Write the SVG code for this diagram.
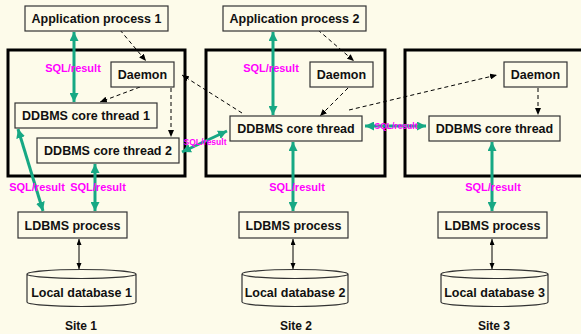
<svg xmlns="http://www.w3.org/2000/svg" width="581" height="334" viewBox="0 0 581 334">
<defs>
<style>
.bg{fill:#FDFBEA}
.site{fill:none;stroke:#000;stroke-width:3}
.box{fill:#FDFBEA;stroke:#333;stroke-width:1.2}
.t{font-family:"Liberation Sans",Arial,sans-serif;font-weight:bold;font-size:12.5px;fill:#111;text-anchor:middle}
.lbl{font-family:"Liberation Sans",Arial,sans-serif;font-weight:bold;font-size:11px;fill:#FF00FF;text-anchor:middle}
.slbl{font-family:"Liberation Sans",Arial,sans-serif;font-weight:bold;font-size:8.5px;fill:#FF00FF;text-anchor:middle}
.g{stroke:#17A884;stroke-width:3;fill:none;marker-start:url(#ga);marker-end:url(#ga)}
.d{stroke:#000;stroke-width:1;stroke-dasharray:4 3;fill:none;marker-end:url(#da)}
.k{stroke:#000;stroke-width:1;fill:none;marker-start:url(#ka);marker-end:url(#ka)}
</style>
<marker id="ga" markerUnits="userSpaceOnUse" markerWidth="10" markerHeight="9" refX="9" refY="4.5" orient="auto-start-reverse"><path d="M0,0 L9,4.5 L0,9 Z" fill="#17A884"/></marker>
<marker id="da" markerUnits="userSpaceOnUse" markerWidth="7" markerHeight="6" refX="7" refY="3" orient="auto"><path d="M0,0 L7,3 L0,6 Z" fill="#000"/></marker>
<marker id="ka" markerUnits="userSpaceOnUse" markerWidth="6" markerHeight="6" refX="6" refY="2.5" orient="auto-start-reverse"><path d="M0,0 L6,2.5 L0,5 Z" fill="#000"/></marker>
</defs>
<rect class="bg" x="0" y="0" width="581" height="334"/>
<g id="sites">
<rect class="site" x="8" y="50" width="177" height="126"/>
<rect class="site" x="206" y="50" width="179" height="126"/>
<rect class="site" x="405" y="50" width="190" height="126"/>
</g>
<g id="connectors">
<line class="g" x1="74" y1="32" x2="74" y2="102"/>
<line class="g" x1="273" y1="32" x2="273" y2="115"/>
<line class="g" x1="18" y1="129" x2="43" y2="211"/>
<line class="g" x1="95" y1="164" x2="95" y2="211"/>
<line class="g" x1="293" y1="142" x2="293" y2="211"/>
<line class="g" x1="492" y1="142" x2="492" y2="211"/>
<line class="g" x1="182" y1="152" x2="227" y2="131"/>
<line class="g" x1="365" y1="126" x2="426" y2="126"/>
<line class="k" x1="79" y1="239" x2="79" y2="269"/>
<line class="k" x1="293" y1="239" x2="293" y2="269"/>
<line class="k" x1="492" y1="239" x2="492" y2="269"/>
<line class="d" x1="120" y1="30" x2="146" y2="61"/>
<line class="d" x1="140" y1="87" x2="100" y2="102"/>
<line class="d" x1="171" y1="88" x2="171" y2="137"/>
<line class="d" x1="242" y1="113" x2="182" y2="75"/>
<line class="d" x1="318" y1="30" x2="354" y2="61"/>
<line class="d" x1="348" y1="88" x2="320" y2="116"/>
<line class="d" x1="349" y1="110" x2="497" y2="75"/>
<line class="d" x1="538" y1="88" x2="538" y2="115"/>
</g>
<g id="labels">
<text class="lbl" x="73" y="72">SQL/result</text>
<text class="lbl" x="271" y="72">SQL/result</text>
<text class="lbl" x="37" y="191">SQL/result</text>
<text class="lbl" x="98" y="191">SQL/result</text>
<text class="lbl" x="297" y="191">SQL/result</text>
<text class="lbl" x="493" y="191">SQL/result</text>
<text class="slbl" x="205" y="145">SQL/result</text>
<text class="slbl" x="396" y="129">SQL/result</text>
</g>
<g id="app1"><rect class="box" x="25" y="6" width="143" height="25"/><text class="t" x="96.5" y="23">Application process 1</text></g>
<g id="app2"><rect class="box" x="223" y="6" width="143" height="25"/><text class="t" x="294.5" y="23">Application process 2</text></g>
<g id="daemon1"><rect class="box" x="111" y="62" width="63" height="25"/><text class="t" x="142.5" y="79">Daemon</text></g>
<g id="daemon2"><rect class="box" x="310" y="62" width="63" height="25"/><text class="t" x="341.5" y="79">Daemon</text></g>
<g id="daemon3"><rect class="box" x="504" y="62" width="63" height="25"/><text class="t" x="535.5" y="79">Daemon</text></g>
<g id="core1"><rect class="box" x="15" y="103" width="142" height="25"/><text class="t" x="86" y="120">DDBMS core thread 1</text></g>
<g id="core2"><rect class="box" x="37" y="138" width="142" height="25"/><text class="t" x="108" y="155">DDBMS core thread 2</text></g>
<g id="core-site2"><rect class="box" x="230" y="116" width="132" height="25"/><text class="t" x="296" y="133">DDBMS core thread</text></g>
<g id="core-site3"><rect class="box" x="429" y="116" width="131" height="25"/><text class="t" x="494.5" y="133">DDBMS core thread</text></g>
<g id="ldbms1"><rect class="box" x="18" y="212" width="109" height="26"/><text class="t" x="72.5" y="229.5">LDBMS process</text></g>
<g id="ldbms2"><rect class="box" x="239" y="212" width="109" height="26"/><text class="t" x="293.5" y="229.5">LDBMS process</text></g>
<g id="ldbms3"><rect class="box" x="438" y="212" width="109" height="26"/><text class="t" x="492.5" y="229.5">LDBMS process</text></g>
<g id="db1"><path class="box" d="M27,274 A54.5,4.5 0 0 1 136,274 L136,302 A54.5,4.5 0 0 1 27,302 Z M27,274 A54.5,4.5 0 0 0 136,274"/><text class="t" x="81.5" y="297">Local database 1</text></g>
<g id="db2"><path class="box" d="M242,274 A53,4.5 0 0 1 348,274 L348,302 A53,4.5 0 0 1 242,302 Z M242,274 A53,4.5 0 0 0 348,274"/><text class="t" x="295" y="297">Local database 2</text></g>
<g id="db3"><path class="box" d="M441,274 A53.5,4.5 0 0 1 548,274 L548,302 A53.5,4.5 0 0 1 441,302 Z M441,274 A53.5,4.5 0 0 0 548,274"/><text class="t" x="494.5" y="297">Local database 3</text></g>
<g id="sitelabels">
<text class="t" x="81" y="330" style="font-size:12px">Site 1</text>
<text class="t" x="296" y="330" style="font-size:12px">Site 2</text>
<text class="t" x="494" y="330" style="font-size:12px">Site 3</text>
</g>
</svg>
